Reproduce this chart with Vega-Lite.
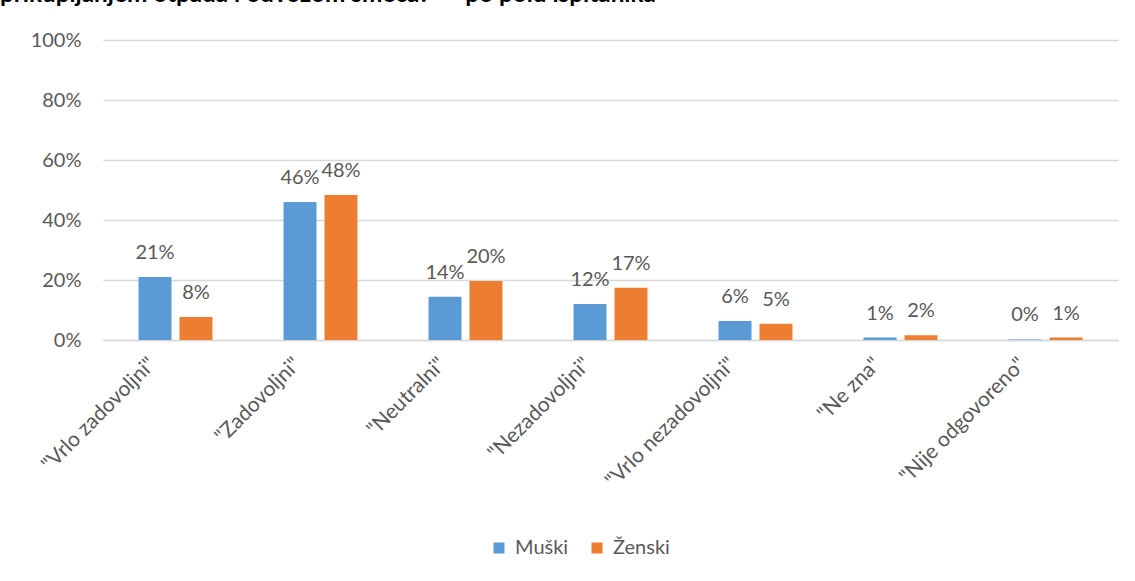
{
  "$schema": "https://vega.github.io/schema/vega-lite/v6.json",
  "width": 1015,
  "height": 300,
  "autosize": "none",
  "padding": {"left": 103, "top": 40, "right": 17, "bottom": 241},
  "background": "white",
  "title": {
    "text": "prikupljanjem otpada i odvozom smeća?\" – po polu ispitanika",
    "anchor": "start",
    "frame": "group",
    "fontSize": 24.3,
    "fontWeight": "bold",
    "color": "#000000",
    "font": "Lato",
    "baseline": "alphabetic",
    "offset": 0,
    "dx": -103,
    "dy": -4
  },
  "data": {
    "values": [
      {"kategorija": "\"Vrlo zadovoljni\"", "pol": "Muški", "vrijednost": 0.21},
      {"kategorija": "\"Vrlo zadovoljni\"", "pol": "Ženski", "vrijednost": 0.077},
      {"kategorija": "\"Zadovoljni\"", "pol": "Muški", "vrijednost": 0.46},
      {"kategorija": "\"Zadovoljni\"", "pol": "Ženski", "vrijednost": 0.483},
      {"kategorija": "\"Neutralni\"", "pol": "Muški", "vrijednost": 0.144},
      {"kategorija": "\"Neutralni\"", "pol": "Ženski", "vrijednost": 0.197},
      {"kategorija": "\"Nezadovoljni\"", "pol": "Muški", "vrijednost": 0.12},
      {"kategorija": "\"Nezadovoljni\"", "pol": "Ženski", "vrijednost": 0.174},
      {"kategorija": "\"Vrlo nezadovoljni\"", "pol": "Muški", "vrijednost": 0.063},
      {"kategorija": "\"Vrlo nezadovoljni\"", "pol": "Ženski", "vrijednost": 0.054},
      {"kategorija": "\"Ne zna\"", "pol": "Muški", "vrijednost": 0.008},
      {"kategorija": "\"Ne zna\"", "pol": "Ženski", "vrijednost": 0.016},
      {"kategorija": "\"Nije odgovoreno\"", "pol": "Muški", "vrijednost": 0.002},
      {"kategorija": "\"Nije odgovoreno\"", "pol": "Ženski", "vrijednost": 0.008}
    ]
  },
  "encoding": {
    "x": {
      "field": "kategorija",
      "type": "nominal",
      "sort": null,
      "scale": {"paddingInner": 0.49, "paddingOuter": 0.245},
      "axis": {
        "title": null,
        "labelAngle": -45,
        "labelAlign": "right",
        "labelBaseline": "middle",
        "labelFontSize": 21,
        "labelColor": "#595959",
        "labelFont": "Lato",
        "labelPadding": 21,
        "labelOffset": -23,
        "ticks": false,
        "domain": true,
        "domainColor": "#d9d9d9",
        "domainWidth": 1.5
      }
    },
    "xOffset": {
      "field": "pol",
      "type": "nominal",
      "scale": {"paddingInner": 0.195, "paddingOuter": 0}
    },
    "y": {
      "field": "vrijednost",
      "type": "quantitative",
      "scale": {"domain": [0, 1]},
      "axis": {
        "title": null,
        "values": [0, 0.2, 0.4, 0.6, 0.8, 1],
        "format": ".0%",
        "labelFontSize": 20,
        "labelColor": "#595959",
        "labelFont": "Lato",
        "labelPadding": 22,
        "ticks": false,
        "domain": false,
        "gridColor": "#d9d9d9",
        "gridWidth": 1.5
      }
    },
    "color": {
      "field": "pol",
      "type": "nominal",
      "scale": {"domain": ["Muški", "Ženski"], "range": ["#5b9bd5", "#ed7d31"]},
      "legend": {
        "title": null,
        "orient": "none",
        "direction": "horizontal",
        "legendX": 386,
        "legendY": 498,
        "symbolType": "square",
        "symbolSize": 121,
        "symbolStrokeWidth": 0,
        "labelFontSize": 20,
        "labelColor": "#595959",
        "labelFont": "Lato",
        "labelOffset": 6,
        "columnPadding": 18
      }
    }
  },
  "layer": [
    {"mark": {"type": "bar"}},
    {
      "mark": {"type": "text", "baseline": "alphabetic", "dy": -18, "fontSize": 20, "color": "#595959", "font": "Lato"},
      "encoding": {
        "text": {"field": "vrijednost", "type": "quantitative", "format": ".0%"},
        "color": {"value": "#595959"}
      }
    }
  ],
  "config": {"view": {"stroke": null}}
}
